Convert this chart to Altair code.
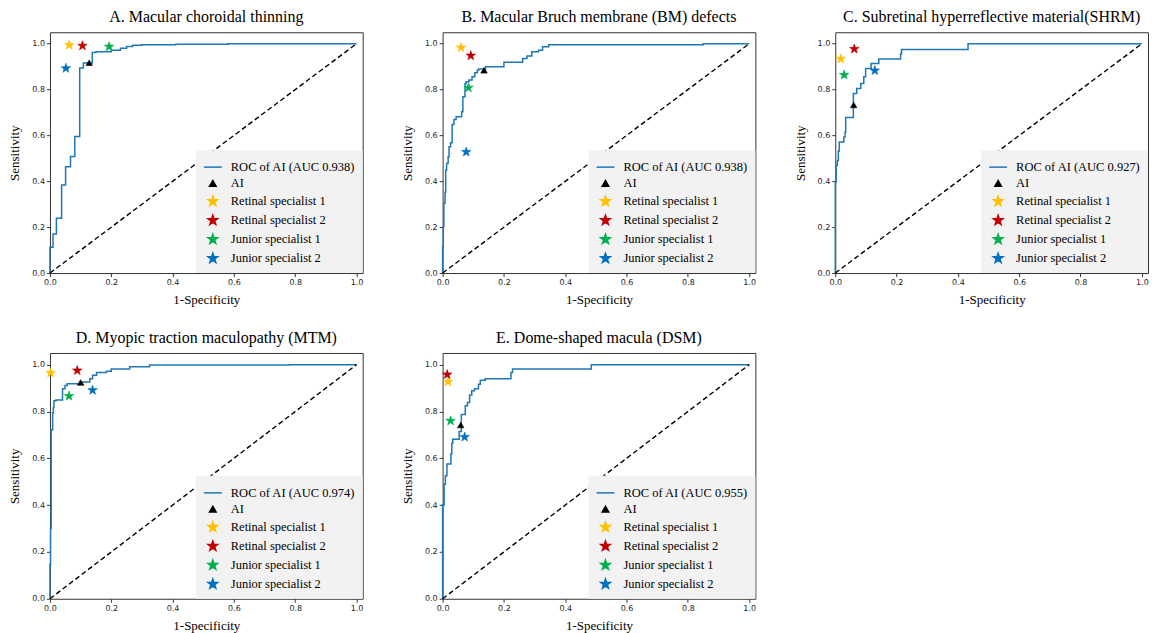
import math
import altair as alt
import pandas as pd

# ---------------- data ----------------
titles = [
    "A. Macular choroidal thinning",
    "B. Macular Bruch membrane (BM) defects",
    "C.  Subretinal hyperreflective material(SHRM)",
    "D. Myopic traction maculopathy (MTM)",
    "E. Dome-shaped macula (DSM)",
]
aucs = ["0.938", "0.938", "0.927", "0.974", "0.955"]

a_fpr = [0, 0, 0.010, 0.021, 0.038, 0.051, 0.067, 0.081, 0.097, 0.109, 0.138, 0.150, 0.200, 0.230, 0.250, 0.270, 0.300, 0.410, 0.580, 1.0]
a_tpr = [0, 0.112, 0.170, 0.239, 0.384, 0.464, 0.508, 0.595, 0.894, 0.916, 0.962, 0.965, 0.972, 0.980, 0.988, 0.993, 0.996, 0.998, 1.0, 1.0]

b_fpr = [0, 0, 0.002, 0.004, 0.008, 0.010, 0.013, 0.018, 0.021, 0.026, 0.031, 0.037, 0.044, 0.062, 0.066, 0.073, 0.077, 0.086, 0.096, 0.105, 0.113, 0.118, 0.140, 0.200, 0.261, 0.275, 0.291, 0.313, 0.326, 0.346, 0.850, 1.0]
b_tpr = [0, 0.115, 0.202, 0.304, 0.352, 0.449, 0.478, 0.507, 0.551, 0.568, 0.648, 0.670, 0.682, 0.703, 0.769, 0.827, 0.834, 0.842, 0.856, 0.873, 0.885, 0.890, 0.900, 0.919, 0.936, 0.946, 0.965, 0.972, 0.987, 0.996, 1.0, 1.0]

c_fpr = [0, 0, 0.003, 0.0065, 0.010, 0.013, 0.028, 0.032, 0.034, 0.059, 0.070, 0.083, 0.093, 0.099, 0.117, 0.142, 0.213, 0.216, 0.433, 1.0]
c_tpr = [0, 0.397, 0.469, 0.491, 0.532, 0.571, 0.593, 0.615, 0.678, 0.783, 0.805, 0.827, 0.856, 0.892, 0.914, 0.933, 0.955, 0.975, 1.0, 1.0]

d_fpr = [0, 0, 0.002, 0.004, 0.0087, 0.011, 0.013, 0.0195, 0.041, 0.049, 0.056, 0.103, 0.130, 0.139, 0.152, 0.184, 0.200, 0.260, 0.325, 0.780, 1.0]
d_tpr = [0, 0.147, 0.300, 0.722, 0.795, 0.817, 0.846, 0.849, 0.897, 0.911, 0.918, 0.926, 0.940, 0.955, 0.967, 0.972, 0.981, 0.991, 0.999, 1.0, 1.0]

e_fpr = [0, 0, 0.005, 0.009, 0.014, 0.027, 0.030, 0.033, 0.054, 0.061, 0.074, 0.081, 0.088, 0.095, 0.104, 0.117, 0.123, 0.139, 0.223, 0.228, 0.485, 1.0]
e_tpr = [0, 0.402, 0.489, 0.525, 0.576, 0.620, 0.664, 0.681, 0.715, 0.787, 0.824, 0.838, 0.870, 0.889, 0.897, 0.916, 0.933, 0.940, 0.967, 0.981, 1.0, 1.0]

# marker order: AI, Retinal specialist 1, Retinal specialist 2, Junior specialist 1, Junior specialist 2
a_mx = [0.128, 0.063, 0.106, 0.193, 0.052]
a_my = [0.917, 0.994, 0.991, 0.987, 0.893]
b_mx = [0.135, 0.060, 0.092, 0.0845, 0.077]
b_my = [0.884, 0.983, 0.948, 0.808, 0.528]
c_mx = [0.060, 0.018, 0.062, 0.029, 0.129]
c_my = [0.733, 0.934, 0.977, 0.864, 0.883]
d_mx = [0.100, 0.002, 0.089, 0.062, 0.139]
d_my = [0.924, 0.965, 0.975, 0.866, 0.891]
e_mx = [0.059, 0.018, 0.015, 0.026, 0.072]
e_my = [0.742, 0.927, 0.958, 0.760, 0.691]

marker_names = ["AI", "Retinal specialist 1", "Retinal specialist 2",
                "Junior specialist 1", "Junior specialist 2"]
tick_vals = [0.0, 0.2, 0.4, 0.6, 0.8, 1.0]
diag = [0.0, 1.0]

# ---------------- style ----------------
SERIF = "Liberation Serif"
SANS = "DejaVu Sans"
ROC_BLUE = "#1f77b4"
marker_colors = ["#000000", "#FFC000", "#C00000", "#00B050", "#0070C0"]


def star_path(r_in=0.40):
    pts = []
    for k in range(10):
        r = 1.0 if k % 2 == 0 else r_in
        ang = math.pi / 2 + k * math.pi / 5
        pts.append((r * math.cos(ang), -r * math.sin(ang)))
    return "M" + " L".join(f"{x:.3f},{y:.3f}" for x, y in pts) + " Z"


STAR = star_path()
W = 313


def panel(title, auc, fpr, tpr, mx, my, h):
    roc_label = f"ROC of AI (AUC {auc})"
    labels = [roc_label] + marker_names
    colors = [ROC_BLUE] + marker_colors
    shapes = ["stroke", "triangle-up", STAR, STAR, STAR, STAR]
    sizes = [320, 42, 100, 100, 100, 100]

    xs = alt.Scale(domain=[0, 1.02], nice=False, zero=False)
    ys = alt.Scale(domain=[0, 1.05], nice=False, zero=False)
    xax = alt.Axis(values=tick_vals, format=".1f", title="1-Specificity")
    yax = alt.Axis(values=tick_vals, format=".1f", title="Sensitivity")

    roc_df = pd.DataFrame({"fpr": fpr, "tpr": tpr, "i": list(range(len(fpr)))})
    roc = alt.Chart(roc_df).mark_line(
        interpolate="step-after", color=ROC_BLUE, strokeWidth=1.5
    ).encode(
        x=alt.X("fpr:Q", scale=xs, axis=xax),
        y=alt.Y("tpr:Q", scale=ys, axis=yax),
        order="i:Q",
    )

    diag_df = pd.DataFrame({"fpr": diag, "tpr": diag})
    dline = alt.Chart(diag_df).mark_line(
        color="black", strokeDash=[5, 3], strokeWidth=1.4
    ).encode(x="fpr:Q", y="tpr:Q")

    pts_df = pd.DataFrame({"fpr": mx, "tpr": my, "label": marker_names})
    legend = alt.Legend(
        title=None, orient="bottom-right", offset=0, fillColor="#f2f2f2",
        padding=7, labelFont=SERIF, labelFontSize=12.5, labelColor="black",
        labelOffset=8, rowPadding=3, labelLimit=300, symbolStrokeWidth=1.5,
        symbolOpacity=1,
    )
    pts = alt.Chart(pts_df).mark_point(
        filled=True, opacity=1, strokeWidth=0.6, clip=False
    ).encode(
        x="fpr:Q",
        y="tpr:Q",
        color=alt.Color("label:N", scale=alt.Scale(domain=labels, range=colors), legend=legend),
        stroke=alt.Stroke("label:N", scale=alt.Scale(domain=labels, range=colors), legend=legend),
        shape=alt.Shape("label:N", scale=alt.Scale(domain=labels, range=shapes), legend=legend),
        size=alt.Size("label:N", scale=alt.Scale(type="ordinal", domain=labels, range=sizes), legend=legend),
    )

    return alt.layer(roc, dline, pts).properties(
        width=W, height=h, title=alt.TitleParams(title)
    )


panels = [
    panel(titles[0], aucs[0], a_fpr, a_tpr, a_mx, a_my, 241),
    panel(titles[1], aucs[1], b_fpr, b_tpr, b_mx, b_my, 241),
    panel(titles[2], aucs[2], c_fpr, c_tpr, c_mx, c_my, 241),
    panel(titles[3], aucs[3], d_fpr, d_tpr, d_mx, d_my, 246),
    panel(titles[4], aucs[4], e_fpr, e_tpr, e_mx, e_my, 246),
]

indep = dict(color="independent", shape="independent", size="independent", stroke="independent")
row1 = alt.hconcat(*panels[:3], spacing=37).resolve_scale(**indep)
row2 = alt.hconcat(*panels[3:], spacing=37).resolve_scale(**indep)

chart = (
    alt.vconcat(row1, row2, spacing=22)
    .resolve_scale(**indep)
    .properties(padding=0, background="white")
    .configure_view(stroke="#333", strokeWidth=1)
    .configure_axis(
        grid=False, domain=False, ticks=True, tickColor="#333", tickSize=3.5,
        labelFont=SANS, labelFontSize=8, labelColor="#222", labelPadding=2,
        labelFlush=False,
        titleFont=SERIF, titleFontSize=13, titleFontWeight="normal",
        titleColor="black",
    )
    .configure_axisX(titlePadding=7)
    .configure_axisY(titlePadding=10)
    .configure_title(
        font=SERIF, fontSize=16, fontWeight="normal", color="black",
        anchor="middle", offset=7,
    )
)

chart.save("out.html", embed_options={"renderer": "svg", "actions": False})
